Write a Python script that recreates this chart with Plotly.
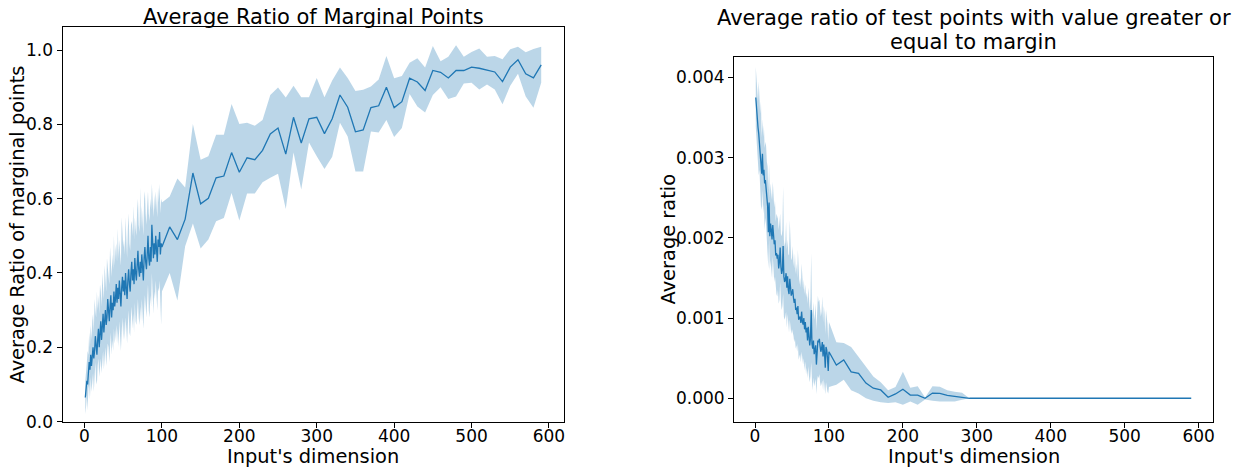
import plotly.graph_objects as go

# ---------------- data ----------------
x_dense = list(range(1, 101))
x_sparse = list(range(110, 600, 10))
dims = x_dense + x_sparse

# Left: average ratio of marginal points
left_mean = [
    0.065, 0.09, 0.11, 0.10, 0.13, 0.16, 0.14, 0.18, 0.15, 0.17,
    0.20, 0.17, 0.19, 0.23, 0.21, 0.18, 0.22, 0.25, 0.20, 0.24,
    0.27, 0.22, 0.26, 0.29, 0.24, 0.27, 0.30, 0.26, 0.28, 0.33,
    0.29, 0.27, 0.31, 0.34, 0.28, 0.32, 0.30, 0.35, 0.31, 0.33,
    0.37, 0.32, 0.36, 0.33, 0.38, 0.34, 0.31, 0.36, 0.39, 0.35,
    0.38, 0.34, 0.40, 0.36, 0.33, 0.38, 0.41, 0.37, 0.35, 0.40,
    0.43, 0.38, 0.41, 0.37, 0.44, 0.40, 0.38, 0.42, 0.46, 0.41,
    0.39, 0.43, 0.40, 0.45, 0.42, 0.38, 0.44, 0.47, 0.43, 0.41,
    0.45, 0.50, 0.44, 0.42, 0.47, 0.43, 0.53, 0.46, 0.44, 0.48,
    0.45, 0.50, 0.46, 0.43, 0.49, 0.47, 0.51, 0.45, 0.48, 0.47,
    0.524, 0.490, 0.545, 0.669, 0.586, 0.601, 0.656, 0.661, 0.724, 0.671,
    0.710, 0.705, 0.730, 0.774, 0.790, 0.720, 0.819, 0.750, 0.815, 0.819,
    0.775, 0.815, 0.879, 0.846, 0.780, 0.785, 0.845, 0.850, 0.900, 0.845,
    0.861, 0.924, 0.914, 0.891, 0.945, 0.940, 0.925, 0.945, 0.945, 0.954,
    0.951, 0.946, 0.941, 0.915, 0.954, 0.974, 0.936, 0.925, 0.960,
]
left_upper = [
    0.11, 0.15, 0.16, 0.19, 0.18, 0.24, 0.20, 0.26, 0.22, 0.27,
    0.29, 0.24, 0.33, 0.30, 0.28, 0.35, 0.30, 0.34, 0.29, 0.37,
    0.35, 0.31, 0.40, 0.36, 0.33, 0.42, 0.38, 0.35, 0.44, 0.41,
    0.40, 0.37, 0.47, 0.43, 0.39, 0.45, 0.41, 0.50, 0.42, 0.46,
    0.48, 0.43, 0.52, 0.44, 0.49, 0.45, 0.42, 0.55, 0.50, 0.47,
    0.49, 0.45, 0.55, 0.47, 0.44, 0.52, 0.56, 0.48, 0.46, 0.53,
    0.54, 0.50, 0.58, 0.49, 0.55, 0.52, 0.50, 0.57, 0.60, 0.53,
    0.51, 0.63, 0.52, 0.58, 0.55, 0.50, 0.60, 0.62, 0.56, 0.53,
    0.58, 0.62, 0.56, 0.54, 0.60, 0.57, 0.64, 0.59, 0.55, 0.61,
    0.57, 0.62, 0.58, 0.55, 0.63, 0.59, 0.64, 0.56, 0.60, 0.59,
    0.606, 0.654, 0.630, 0.801, 0.705, 0.714, 0.772, 0.772, 0.855, 0.801,
    0.804, 0.796, 0.812, 0.879, 0.899, 0.872, 0.904, 0.873, 0.873, 0.925,
    0.873, 0.918, 0.953, 0.925, 0.890, 0.893, 0.902, 0.921, 0.984, 0.924,
    0.930, 0.966, 0.978, 0.953, 1.011, 0.970, 0.982, 1.013, 0.982, 0.995,
    1.004, 0.982, 0.984, 0.975, 1.002, 1.009, 0.994, 1.003, 1.009,
]
left_lower = [
    0.02, 0.04, 0.07, 0.03, 0.09, 0.10, 0.06, 0.12, 0.08, 0.11,
    0.13, 0.08, 0.12, 0.16, 0.11, 0.10, 0.15, 0.17, 0.12, 0.14,
    0.17, 0.13, 0.16, 0.19, 0.14, 0.17, 0.20, 0.15, 0.18, 0.21,
    0.20, 0.16, 0.21, 0.24, 0.18, 0.22, 0.19, 0.25, 0.21, 0.23,
    0.26, 0.21, 0.25, 0.20, 0.27, 0.23, 0.19, 0.24, 0.28, 0.22,
    0.27, 0.22, 0.28, 0.25, 0.21, 0.26, 0.30, 0.24, 0.23, 0.28,
    0.31, 0.25, 0.29, 0.24, 0.32, 0.27, 0.26, 0.30, 0.33, 0.28,
    0.26, 0.31, 0.27, 0.33, 0.29, 0.25, 0.30, 0.34, 0.31, 0.28,
    0.32, 0.37, 0.30, 0.28, 0.34, 0.31, 0.40, 0.33, 0.29, 0.35,
    0.33, 0.38, 0.34, 0.30, 0.36, 0.35, 0.38, 0.32, 0.26, 0.35,
    0.400, 0.326, 0.472, 0.533, 0.466, 0.490, 0.539, 0.548, 0.615, 0.541,
    0.614, 0.614, 0.644, 0.656, 0.667, 0.572, 0.724, 0.625, 0.751, 0.714,
    0.680, 0.713, 0.804, 0.767, 0.673, 0.673, 0.781, 0.778, 0.812, 0.766,
    0.790, 0.882, 0.848, 0.832, 0.879, 0.900, 0.868, 0.875, 0.910, 0.912,
    0.894, 0.907, 0.894, 0.854, 0.904, 0.936, 0.875, 0.845, 0.912,
]

# Right: average ratio of test points with value >= margin (values in units of 1e-3)
right_mean_e3 = [
    3.75, 3.58, 3.48, 3.38, 3.30, 3.17, 3.08, 2.98, 2.80, 3.05,
    2.78, 2.85, 2.68, 2.72, 2.62, 2.55, 2.40, 2.07, 2.44, 2.02,
    2.18, 2.10, 1.98, 2.16, 2.05, 1.92, 1.97, 1.78, 1.81, 1.74,
    1.79, 1.62, 1.70, 1.88, 1.64, 1.55, 1.60, 1.90, 1.52, 1.45,
    1.48, 1.56, 1.38, 1.52, 1.35, 1.30, 1.49, 1.42, 1.28, 1.31,
    1.36, 1.25, 1.19, 1.24, 1.10, 1.13, 1.05, 1.15, 0.98, 1.00,
    1.02, 0.94, 1.08, 0.96, 0.92, 1.00, 0.86, 0.95, 0.82, 0.88,
    0.72, 0.89, 0.70, 0.66, 0.75, 1.10, 0.68, 0.62, 0.72, 0.55,
    0.60, 0.66, 0.42, 0.63, 0.72, 0.70, 0.74, 0.65, 0.58, 0.62,
    0.70, 0.52, 0.67, 0.56, 0.38, 0.64, 0.60, 0.50, 0.34, 0.58,
    0.415, 0.478, 0.33, 0.31, 0.19, 0.125, 0.104, 0.012, 0.054, 0.112,
    0.04, 0.04, 0.0, 0.065, 0.06, 0.035, 0.02, 0.012, 0.0, 0.0,
    0.0, 0.0, 0.0, 0.0, 0.0, 0.0, 0.0, 0.0, 0.0, 0.0,
    0.0, 0.0, 0.0, 0.0, 0.0, 0.0, 0.0, 0.0, 0.0, 0.0,
    0.0, 0.0, 0.0, 0.0, 0.0, 0.0, 0.0, 0.0, 0.0,
]
right_upper_e3 = [
    4.13, 4.02, 3.82, 3.70, 3.95, 3.62, 3.55, 3.70, 3.25, 3.48,
    3.26, 3.40, 3.12, 3.20, 3.14, 2.95, 2.89, 2.60, 2.92, 2.50,
    2.68, 2.55, 2.47, 2.70, 2.45, 2.38, 2.47, 2.20, 2.30, 2.26,
    2.24, 2.10, 2.17, 2.30, 2.05, 2.02, 2.10, 2.64, 1.98, 1.89,
    1.95, 2.20, 1.85, 1.98, 1.80, 1.78, 2.22, 1.86, 1.72, 1.75,
    1.90, 1.70, 1.62, 1.81, 1.55, 1.68, 1.50, 1.85, 1.45, 1.42,
    1.50, 1.38, 1.68, 1.40, 1.36, 1.48, 1.30, 1.42, 1.26, 1.32,
    1.18, 1.38, 1.15, 1.10, 1.25, 1.81, 1.12, 1.05, 1.20, 0.98,
    1.05, 1.18, 0.85, 1.10, 1.28, 1.20, 1.23, 1.12, 1.02, 1.08,
    1.27, 0.95, 1.15, 1.06, 0.80, 1.10, 1.00, 0.93, 0.72, 0.95,
    0.70, 0.69, 0.64, 0.52, 0.40, 0.27, 0.20, 0.10, 0.14, 0.33,
    0.13, 0.15, 0.01, 0.15, 0.145, 0.10, 0.08, 0.07, 0.0, 0.0,
    0.0, 0.0, 0.0, 0.0, 0.0, 0.0, 0.0, 0.0, 0.0, 0.0,
    0.0, 0.0, 0.0, 0.0, 0.0, 0.0, 0.0, 0.0, 0.0, 0.0,
    0.0, 0.0, 0.0, 0.0, 0.0, 0.0, 0.0, 0.0, 0.0,
]
right_lower_e3 = [
    3.39, 3.12, 3.10, 2.95, 2.78, 2.85, 2.62, 2.40, 2.35, 2.60,
    2.30, 2.42, 2.10, 2.25, 2.15, 1.97, 1.95, 1.62, 1.98, 1.60,
    1.72, 1.68, 1.50, 1.77, 1.62, 1.45, 1.52, 1.38, 1.30, 1.27,
    1.35, 1.18, 1.23, 1.45, 1.20, 1.10, 1.15, 1.30, 1.02, 0.98,
    1.02, 1.08, 0.88, 1.05, 0.90, 0.82, 0.98, 0.95, 0.80, 0.86,
    0.85, 0.78, 0.70, 0.74, 0.62, 0.66, 0.58, 0.68, 0.48, 0.52,
    0.55, 0.45, 0.58, 0.48, 0.42, 0.50, 0.35, 0.46, 0.30, 0.38,
    0.25, 0.40, 0.27, 0.20, 0.28, 0.45, 0.22, 0.10, 0.26, 0.15,
    0.20, 0.24, 0.05, 0.22, 0.28, 0.25, 0.30, 0.20, 0.15, 0.18,
    0.22, 0.10, 0.24, 0.14, 0.05, 0.20, 0.16, 0.08, 0.06, 0.14,
    0.17, 0.23, 0.10, 0.06, 0.0, -0.03, -0.05, -0.06, -0.05, -0.08,
    -0.04, -0.08, -0.015, -0.03, -0.04, -0.04, -0.04, -0.02, 0.0, 0.0,
    0.0, 0.0, 0.0, 0.0, 0.0, 0.0, 0.0, 0.0, 0.0, 0.0,
    0.0, 0.0, 0.0, 0.0, 0.0, 0.0, 0.0, 0.0, 0.0, 0.0,
    0.0, 0.0, 0.0, 0.0, 0.0, 0.0, 0.0, 0.0, 0.0,
]
right_mean = [v * 1e-3 for v in right_mean_e3]
right_upper = [v * 1e-3 for v in right_upper_e3]
right_lower = [v * 1e-3 for v in right_lower_e3]

x_ticks = [0, 100, 200, 300, 400, 500, 600]
left_y_ticks = [0.0, 0.2, 0.4, 0.6, 0.8, 1.0]
right_y_ticks = [0.0, 0.001, 0.002, 0.003, 0.004]

# ---------------- styling / layout ----------------
W, H = 1237, 467
BLUE = "#1f77b4"
FILL = "rgba(31,119,180,0.3)"
FONT = "DejaVu Sans"
TICK_SIZE = 17
LABEL_SIZE = 19.4
TITLE_SIZE = 21

# axes boxes in pixels (left, right, top, bottom)
L_BOX = (62.5, 564, 27, 422)
R_BOX = (734, 1213, 57, 422)


def px(x):
    return x / W


def py(y):
    return 1 - y / H


fig = go.Figure()


def add_band(xs, mean, upper, lower, xa, ya):
    fig.add_trace(go.Scatter(
        x=xs + xs[::-1], y=upper + lower[::-1], fill="toself",
        fillcolor=FILL, line=dict(width=0), mode="lines",
        hoverinfo="skip", showlegend=False, xaxis=xa, yaxis=ya))
    fig.add_trace(go.Scatter(
        x=xs, y=mean, mode="lines", line=dict(color=BLUE, width=1.3),
        showlegend=False, xaxis=xa, yaxis=ya))


add_band(dims, left_mean, left_upper, left_lower, "x", "y")
add_band(dims, right_mean, right_upper, right_lower, "x2", "y2")

axis_common = dict(
    showgrid=False, zeroline=False, showline=True, mirror=True,
    linecolor="black", linewidth=1, ticks="outside", ticklen=5,
    tickwidth=1, tickcolor="black", automargin=False,
    tickfont=dict(family=FONT, size=TICK_SIZE, color="black"),
)
x_extra = dict(ticklabelstandoff=-6)

fig.update_layout(
    width=W, height=H, autosize=False,
    margin=dict(l=0, r=0, t=0, b=0, pad=0),
    paper_bgcolor="white", plot_bgcolor="white",
    showlegend=False,
    xaxis=dict(domain=[px(L_BOX[0]), px(L_BOX[1])], range=[-28.45, 619.45],
               tickvals=x_ticks, anchor="y", **axis_common, **x_extra),
    yaxis=dict(domain=[py(L_BOX[3]), py(L_BOX[2])], range=[-0.001, 1.062],
               tickvals=left_y_ticks, tickformat=".1f", anchor="x", **axis_common),
    xaxis2=dict(domain=[px(R_BOX[0]), px(R_BOX[1])], range=[-28.45, 619.45],
                tickvals=x_ticks, anchor="y2", **axis_common, **x_extra),
    yaxis2=dict(domain=[py(R_BOX[3]), py(R_BOX[2])], range=[-0.000296, 0.004256],
                tickvals=right_y_ticks, tickformat=".3f", anchor="x2", **axis_common),
)

ann = []
lc = (L_BOX[0] + L_BOX[1]) / 2
rc = (R_BOX[0] + R_BOX[1]) / 2
ann.append(dict(text="Average Ratio of Marginal Points", x=px(lc), y=py(17), yanchor="middle",
                font=dict(family=FONT, size=TITLE_SIZE, color="black")))
ann.append(dict(text="Average ratio of test points with value greater or",
                x=px(rc), y=py(18), yanchor="middle",
                font=dict(family=FONT, size=TITLE_SIZE, color="black")))
ann.append(dict(text="equal to margin",
                x=px(rc), y=py(42), yanchor="middle",
                font=dict(family=FONT, size=TITLE_SIZE, color="black")))
ann.append(dict(text="Input's dimension", x=px(lc), y=-3 / H, yanchor="bottom",
                font=dict(family=FONT, size=LABEL_SIZE, color="black")))
ann.append(dict(text="Input's dimension", x=px(rc), y=-3 / H, yanchor="bottom",
                font=dict(family=FONT, size=LABEL_SIZE, color="black")))
ann.append(dict(text="Average Ratio of marginal points", x=px(17), y=py((L_BOX[2] + L_BOX[3]) / 2),
                yanchor="middle", textangle=-90,
                font=dict(family=FONT, size=LABEL_SIZE, color="black")))
ann.append(dict(text="Average ratio", x=px(668), y=py((R_BOX[2] + R_BOX[3]) / 2),
                yanchor="middle", textangle=-90,
                font=dict(family=FONT, size=LABEL_SIZE, color="black")))
for a in ann:
    a.update(xref="paper", yref="paper", showarrow=False, xanchor="center")
fig.update_layout(annotations=ann)

fig.write_html(
    "out.html",
    config={"displayModeBar": False},
    post_script="document.body.style.margin='0px';document.body.style.padding='0px';",
)
